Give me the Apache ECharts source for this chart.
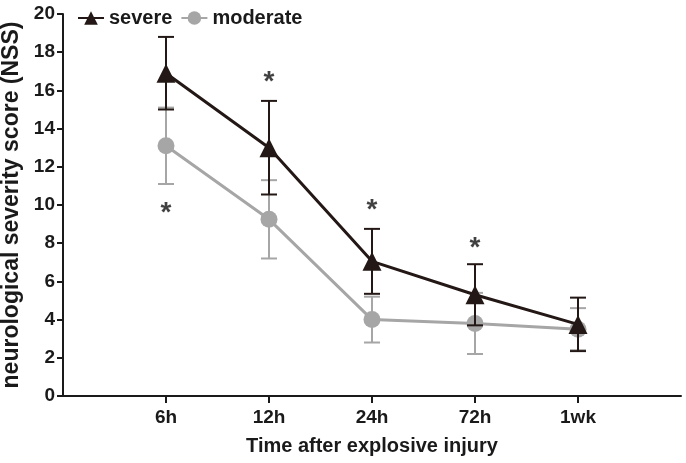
<!DOCTYPE html>
<html>
<head>
<meta charset="utf-8">
<script src="https://cdn.jsdelivr.net/npm/echarts@6/dist/echarts.min.js"></script>
<style>
  html, body { margin: 0; padding: 0; background: #fff; }
  #container { width: 686px; height: 463px; }
</style>
</head>
<body>
<div id="container"></div>
<script>
var categories = ['', '6h', '12h', '24h', '72h', '1wk', ''];
var severeMean = [null, 16.9, 13.0, 7.05, 5.3, 3.75, null];
var severeErr = [null, 1.9, 2.45, 1.7, 1.6, 1.4, null];
var moderateMean = [null, 13.1, 9.25, 4.0, 3.8, 3.5, null];
var moderateErr = [null, 2.0, 2.05, 1.2, 1.6, 1.1, null];
// asterisk positions (category index, value)
var starPoints = [[1, 9.85], [2, 16.7], [3, 10.0], [4, 8.0]];

var dark = '#231815';
var gray = '#a6a6a6';
var font = 'Liberation Sans, Arial, sans-serif';

function errData(mean, err) {
    var out = [];
    for (var i = 0; i < mean.length; i++) {
        if (mean[i] != null) out.push([i, mean[i] - err[i], mean[i] + err[i]]);
    }
    return out;
}

function errRender(color) {
    return function (params, api) {
        var lo = api.coord([api.value(0), api.value(1)]);
        var hi = api.coord([api.value(0), api.value(2)]);
        var w = 8;
        var st = { stroke: color, lineWidth: 2 };
        return {
            type: 'group',
            children: [
                { type: 'line', shape: { x1: hi[0], y1: hi[1], x2: lo[0], y2: lo[1] }, style: st },
                { type: 'line', shape: { x1: hi[0] - w, y1: hi[1], x2: hi[0] + w, y2: hi[1] }, style: st },
                { type: 'line', shape: { x1: lo[0] - w, y1: lo[1], x2: lo[0] + w, y2: lo[1] }, style: st }
            ]
        };
    };
}

var myChart = echarts.init(document.getElementById('container'));

var option = {
    animation: false,
    textStyle: { fontFamily: font },
    grid: { left: 63, right: 5, top: 14, bottom: 67, outerBoundsMode: 'none', containLabel: false },
    legend: {
        left: 72,
        top: 3,
        itemWidth: 26,
        itemHeight: 17,
        itemGap: 8,
        textStyle: { fontSize: 20, fontWeight: 'bold', color: '#1a1a1a', fontFamily: font },
        data: ['severe', 'moderate']
    },
    xAxis: {
        type: 'category',
        data: categories,
        boundaryGap: false,
        name: 'Time after explosive injury',
        nameLocation: 'middle',
        nameGap: 40,
        nameTextStyle: { fontSize: 20, fontWeight: 'bold', color: '#1a1a1a' },
        axisLine: { lineStyle: { color: '#1a1a1a', width: 2 } },
        axisTick: {
            length: 7,
            interval: function (i) { return i > 0 && i < categories.length - 1; },
            lineStyle: { color: '#1a1a1a', width: 2 }
        },
        axisLabel: {
            interval: 0,
            margin: 12,
            fontSize: 19,
            fontWeight: 'bold',
            color: '#1a1a1a'
        },
        splitLine: { show: false }
    },
    yAxis: {
        type: 'value',
        min: 0,
        max: 20,
        interval: 2,
        name: 'neurological severity score (NSS)',
        nameLocation: 'middle',
        nameGap: 38,
        nameTextStyle: { fontSize: 23, fontWeight: 'bold', color: '#1a1a1a' },
        axisLine: { show: true, lineStyle: { color: '#1a1a1a', width: 2 } },
        axisTick: { show: true, length: 6, lineStyle: { color: '#1a1a1a', width: 2 } },
        axisLabel: { margin: 8, fontSize: 19, fontWeight: 'bold', color: '#1a1a1a' },
        splitLine: { show: false }
    },
    series: [
        {
            name: 'moderateErr',
            type: 'custom',
            renderItem: errRender(gray),
            data: errData(moderateMean, moderateErr),
            z: 1
        },
        {
            name: 'moderate',
            type: 'line',
            data: moderateMean,
            symbol: 'circle',
            symbolSize: 17,
            showAllSymbol: true,
            itemStyle: { color: gray },
            lineStyle: { color: gray, width: 3 },
            z: 2
        },
        {
            name: 'severeErr',
            type: 'custom',
            renderItem: errRender(dark),
            data: errData(severeMean, severeErr),
            z: 3
        },
        {
            name: 'severe',
            type: 'line',
            data: severeMean,
            symbol: 'triangle',
            symbolSize: 19,
            showAllSymbol: true,
            itemStyle: { color: dark },
            lineStyle: { color: dark, width: 3 },
            z: 4
        },
        {
            name: 'stars',
            type: 'scatter',
            data: starPoints,
            symbolSize: 0,
            label: {
                show: true,
                position: 'inside',
                formatter: '*',
                fontSize: 28,
                fontWeight: 'bold',
                color: '#111',
                offset: [0, 5]
            },
            z: 5
        }
    ]
};

myChart.setOption(option);
window.onresize = myChart.resize;
</script>
</body>
</html>
